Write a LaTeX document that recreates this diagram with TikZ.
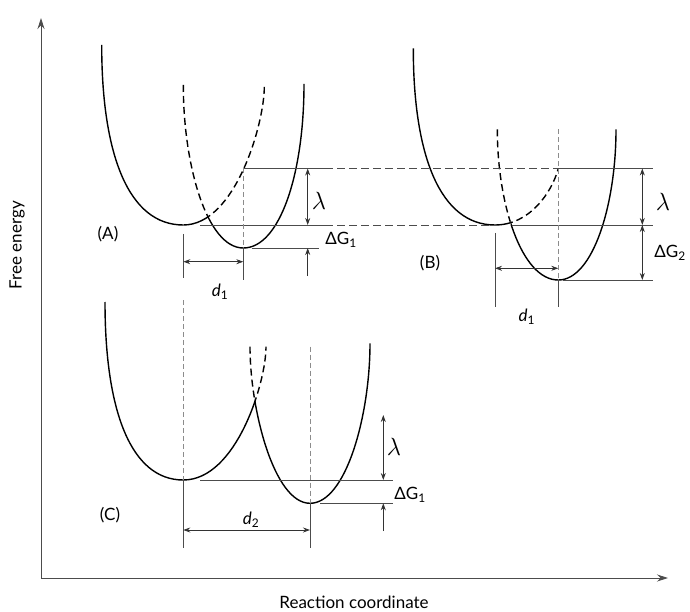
\documentclass[tikz,border=0pt]{standalone}
\usepackage{fontspec}
\setmainfont{Lato}
\usetikzlibrary{arrows.meta,intersections}

\begin{document}
\begin{tikzpicture}[
    x=1pt, y=-1pt,
    font=\fontsize{17}{20}\selectfont,
    curve/.style={
        line width=1.4pt,
        black
    },
    curvedash/.style={
        curve,
        dash pattern=on 7pt off 4pt
    },
    guide/.style={
        line width=0.8pt,
        black!70
    },
    guidedash/.style={
        guide,
        dash pattern=on 8pt off 4pt
    },
    level/.style={
        line width=0.8pt,
        black!45,
        dash pattern=on 5pt off 3pt
    },
    measure/.style={
        line width=0.8pt,
        black!80,
        {Stealth[length=7pt,width=5pt]}-{Stealth[length=7pt,width=5pt]}
    },
    pointer/.style={
        line width=0.8pt,
        black!80,
        -{Stealth[length=7pt,width=5pt]}
    },
    axis/.style={
        line width=0.9pt,
        black!70,
        -{Stealth[length=11pt,width=7pt]}
    },
    lam/.style={
        font=\fontsize{23}{25}\selectfont
    }
]
\useasboundingbox (0,0) rectangle (690,612);
\coordinate (pagetop) at (0,0);
\coordinate (pagebot) at (690,612);

% Axes
\coordinate (O) at (41,578);
\coordinate (ytop) at (41,18);
\coordinate (xend) at (668,578);
\draw[axis] (O) -- (ytop);
\draw[axis] (O) -- (xend);
\node[rotate=90] (ylabel) at (17,245) {Free energy};
\node[anchor=base] (xlabel) at (354,608) {Reaction coordinate};

% Panel A
\coordinate (mA1) at (183.3,225);
\coordinate (mA2) at (243.3,248);
\coordinate (lamA) at (243.3,168.5);
\path[name path=aright] (mA1) .. controls (235.1,225) and (264.3,124) .. (264.3,86.7);
\path[name path=aleft] (183.3,85) .. controls (183.3,166.5) and (207.3,248) .. (mA2);
\path[name intersections={of=aright and aleft, by=xA}];
\draw[curve] (101.7,45) .. controls (101.7,154.8) and (128.6,225) .. (mA1);
\draw[curve] (mA2) .. controls (279.7,248) and (304,174.2) .. (304,84);
\begin{scope}
    \clip (pagetop) rectangle (xA |- pagebot);
    \draw[curve] (mA1) .. controls (235.1,225) and (264.3,124) .. (264.3,86.7);
    \draw[curvedash] (183.3,85) .. controls (183.3,166.5) and (207.3,248) .. (mA2);
\end{scope}
\begin{scope}
    \clip (xA |- pagetop) rectangle (pagebot);
    \draw[curvedash] (mA1) .. controls (235.1,225) and (264.3,124) .. (264.3,86.7);
    \draw[curve] (183.3,85) .. controls (183.3,166.5) and (207.3,248) .. (mA2);
\end{scope}

% Panel B
\coordinate (mB1) at (495,225);
\coordinate (mB2) at (558.3,280);
\coordinate (lamB) at (558.3,168.5);
\path[name path=bright] (mB1) .. controls (530,225) and (552,192) .. (lamB);
\path[name path=bleft] (497.3,129.3) .. controls (497.3,204.7) and (521.7,280) .. (mB2);
\path[name intersections={of=bright and bleft, by=xB}];
\draw[curve] (413.3,48.3) .. controls (413.3,156.1) and (440.3,225) .. (mB1);
\draw[curve] (mB2) .. controls (592.9,280) and (616,204.7) .. (616,129.3);
\begin{scope}
    \clip (pagetop) rectangle (xB |- pagebot);
    \draw[curve] (mB1) .. controls (530,225) and (552,192) .. (lamB);
    \draw[curvedash] (497.3,129.3) .. controls (497.3,204.7) and (521.7,280) .. (mB2);
\end{scope}
\begin{scope}
    \clip (xB |- pagetop) rectangle (pagebot);
    \draw[curvedash] (mB1) .. controls (530,225) and (552,192) .. (lamB);
    \draw[curve] (497.3,129.3) .. controls (497.3,204.7) and (521.7,280) .. (mB2);
\end{scope}

% Panel C
\coordinate (mC1) at (183.3,480);
\coordinate (mC2) at (310,503.3);
\path[name path=cright] (mC1) .. controls (236.2,480) and (266,382.7) .. (266,346.7);
\path[name path=cleft] (250,346.7) .. controls (250,409.3) and (274,503.3) .. (mC2);
\path[name intersections={of=cright and cleft, by=xC}];
\draw[curve] (105,302) .. controls (105,410.6) and (130.8,480) .. (mC1);
\draw[curve] (mC2) .. controls (346,503.3) and (370,415.3) .. (370,343.3);
\begin{scope}
    \clip (pagetop) rectangle (xC |- pagebot);
    \draw[curve] (mC1) .. controls (236.2,480) and (266,382.7) .. (266,346.7);
    \draw[curvedash] (250,346.7) .. controls (250,409.3) and (274,503.3) .. (mC2);
\end{scope}
\begin{scope}
    \clip (xC |- pagetop) rectangle (pagebot);
    \draw[curvedash] (mC1) .. controls (236.2,480) and (266,382.7) .. (266,346.7);
    \draw[curve] (250,346.7) .. controls (250,409.3) and (274,503.3) .. (mC2);
\end{scope}

% Energy levels, A to B
\coordinate (topA) at (325,168.5);
\coordinate (baseA) at (325,225);
\draw[guide] (lamA) -- (topA);
\draw[guidedash] (topA) -- (lamB);
\draw[guide] (200,225) -- (baseA);
\draw[guidedash] (baseA) -- (490,225);
\draw[guide] (251.7,248) -- (319,248);
\draw[guide] (lamB) -- (653.3,168.5);
\draw[guide] (511.7,225) -- (653.3,225);
\draw[guide] (563,280) -- (653.3,280);
% Energy levels, C
\draw[guide] (200,480) -- (393.3,480);
\draw[guide] (320,503.3) -- (393.3,503.3);

% Drop lines
\draw[guide] (183.3,234) -- (183.3,278);
\draw[level] (lamA) -- (mA2);
\draw[guide] (mA2) -- (243.3,280);
\draw[guide] (495,233) -- (495,306.7);
\draw[level] (558.3,129.3) -- (mB2);
\draw[guide] (mB2) -- (558.3,306.7);
\draw[level] (183.3,300) -- (mC1);
\draw[guide] (mC1) -- (183.3,548.3);
\draw[level] (310,346.7) -- (mC2);
\draw[guide] (mC2) -- (310,548.3);

% Measures
\draw[measure] (183.3,261.7) -- (243.3,261.7);
\draw[measure] (307.7,168.5) -- (307.7,225);
\draw[pointer] (307.7,276) -- (307.7,248);
\draw[measure] (495,268.3) -- (558.3,268.3);
\draw[measure] (642.3,168.5) -- (642.3,225);
\draw[measure] (642.3,225) -- (642.3,280);
\draw[measure] (183.3,530) -- (310,530);
\draw[measure] (383.3,415) -- (383.3,480);
\draw[pointer] (383.3,531) -- (383.3,503.3);

% Labels
\node (tagA) at (108,234) {(A)};
\node[lam] (lamlabA) at (319,201) {$\lambda$};
\node (dgA) at (341,240) {ΔG\textsubscript{1}};
\node (dA) at (220,292) {\textit{d}\textsubscript{1}};
\node (tagB) at (430,263) {(B)};
\node[lam] (lamlabB) at (663,201.7) {$\lambda$};
\node (dgB) at (670,253) {ΔG\textsubscript{2}};
\node (dB) at (526.7,317) {\textit{d}\textsubscript{1}};
\node (tagC) at (110,515) {(C)};
\node[lam] (lamlabC) at (394,446.7) {$\lambda$};
\node (dgC) at (410,495) {ΔG\textsubscript{1}};
\node (dC) at (251,520) {\textit{d}\textsubscript{2}};
\end{tikzpicture}
\end{document}
